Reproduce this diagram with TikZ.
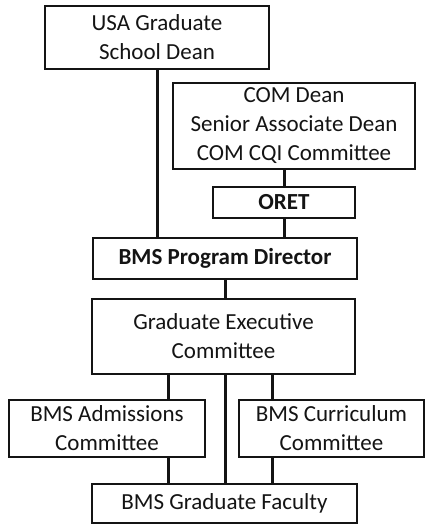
\documentclass[tikz,border=0pt]{standalone}
\usepackage{fontspec}
\setmainfont{Carlito}
\usepackage{tikz}
\usetikzlibrary{positioning, calc}
\definecolor{mydark}{RGB}{20,20,20}
\tikzset{
  orgbox/.style={rectangle, draw=mydark, fill=white, line width=1.3pt,
    align=center, inner sep=0pt, text=mydark,
    font=\fontsize{23}{29}\selectfont},
  boldbox/.style={orgbox, font=\fontsize{23}{29}\selectfont\bfseries},
  link/.style={line width=3pt, color=mydark}
}
\begin{document}
\begin{tikzpicture}[x=1pt, y=-1pt]
  \useasboundingbox (0,0) rectangle (425,524);
  % Reporting lines, top part
  \node[orgbox, minimum width=224pt, minimum height=63pt] (usa) at (157,37.5)
    {USA Graduate\\School Dean};
  \node[orgbox, minimum width=242pt, minimum height=86pt] (com) at (294,126)
    {COM Dean\\Senior Associate Dean\\COM CQI Committee};
  \node[boldbox, minimum width=142pt, minimum height=31pt] (oret) at (284,202.5)
    {ORET};
  \node[boldbox, minimum width=264pt, minimum height=41pt] (bpd) at (225,258.5)
    {BMS Program Director};
  % Committees and faculty
  \node[orgbox, minimum width=263pt, minimum height=75pt] (gec) at (223.5,336.5)
    {Graduate Executive\\Committee};
  \node[orgbox, minimum width=196pt, minimum height=57pt] (adm) at (107,428.5)
    {BMS Admissions\\Committee};
  \node[orgbox, minimum width=185pt, minimum height=57pt] (cur) at (331.5,428.5)
    {BMS Curriculum\\Committee};
  \node[orgbox, minimum width=265pt, minimum height=39pt] (fac) at (224.5,503.5)
    {BMS Graduate Faculty};
  % Drop points for the branch lines
  \coordinate (la) at (168,0);
  \coordinate (ra) at (272,0);
  % Connectors
  \draw[link] (usa.south) -- (usa.south |- bpd.north);
  \draw[link] (oret.north |- com.south) -- (oret.north);
  \draw[link] (oret.south) -- (oret.south |- bpd.north);
  \draw[link] (bpd.south) -- (bpd.south |- gec.north);
  \draw[link] (la |- gec.south) -- (la |- adm.north);
  \draw[link] (ra |- gec.south) -- (ra |- cur.north);
  \draw[link] (bpd.south |- gec.south) -- (bpd.south |- fac.north);
  \draw[link] (la |- adm.south) -- (la |- fac.north);
  \draw[link] (ra |- cur.south) -- (ra |- fac.north);
\end{tikzpicture}
\end{document}
